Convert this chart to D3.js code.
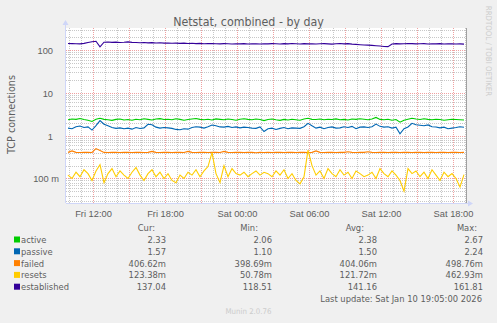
<!DOCTYPE html>
<html>
<head>
<meta charset="utf-8">
<script src="https://cdn.jsdelivr.net/npm/d3@7/dist/d3.min.js"></script>
<style>
body{margin:0;background:#f0f0f0}
svg{display:block;font-family:"DejaVu Sans Condensed","DejaVu Sans",sans-serif;font-stretch:condensed}
</style>
</head>
<body>
<svg id="chart" width="497" height="323"></svg>
<script>
var seriesNames = ['active', 'passive', 'failed', 'resets', 'established'];
var seriesColors = ['#00cc00', '#0066b3', '#ff8000', '#ffcc00', '#330099'];

// 20 minute samples, Fri 09:45 -> Sat 19:05
var active = [2.35,2.45,2.40,2.52,2.38,2.30,2.15,2.42,2.55,2.40,2.35,2.28,2.40,2.45,2.32,2.38,2.30,2.42,2.36,2.48,2.40,2.33,2.45,2.50,2.38,
  2.42,2.35,2.48,2.40,2.30,2.38,2.45,2.52,2.40,2.36,2.42,2.33,2.46,2.40,2.35,2.44,2.38,2.30,2.42,2.48,2.40,2.36,2.45,2.38,2.25,
  2.38,2.45,2.35,2.28,2.40,2.33,2.42,2.36,2.30,2.45,2.55,2.40,2.38,2.44,2.35,2.42,2.38,2.46,2.36,2.40,2.33,2.45,2.40,2.48,2.42,
  2.36,2.45,2.67,2.40,2.35,2.42,2.30,2.38,2.06,2.30,2.42,2.55,2.45,2.38,2.48,2.40,2.35,2.42,2.38,2.30,2.36,2.42,2.38,2.35,2.33];
var passive = [1.50,1.45,1.62,1.68,1.55,1.60,1.35,1.72,2.24,1.85,1.70,1.55,1.48,1.52,1.45,1.50,1.42,1.55,1.47,1.52,1.85,1.80,1.58,1.50,1.55,
  1.52,1.48,1.40,1.38,1.45,1.42,1.55,1.62,1.58,1.50,1.62,1.77,1.70,1.60,1.58,1.65,1.55,1.60,1.52,1.58,1.55,1.50,1.48,1.60,1.25,
  1.45,1.50,1.40,1.48,1.55,1.45,1.52,1.50,1.48,1.62,1.94,1.70,1.50,1.58,1.45,1.55,1.60,1.50,1.52,1.62,1.55,1.65,1.45,1.58,1.60,
  1.55,1.62,1.87,1.65,1.58,1.62,1.50,1.58,1.10,1.45,1.60,1.94,1.80,1.75,1.70,1.78,1.62,1.60,1.52,1.58,1.45,1.50,1.55,1.62,1.57];
var failed = [0.407,0.44,0.407,0.406,0.407,0.407,0.406,0.4988,0.45,0.407,0.406,0.407,0.407,0.406,0.407,0.407,0.406,0.407,0.407,0.406,0.407,0.43,0.407,0.406,0.407,
  0.407,0.406,0.407,0.407,0.406,0.43,0.407,0.406,0.407,0.407,0.406,0.407,0.407,0.406,0.43,0.407,0.406,0.407,0.407,0.406,0.407,0.407,0.3987,0.407,0.406,
  0.407,0.406,0.407,0.407,0.406,0.407,0.407,0.406,0.407,0.407,0.406,0.407,0.44,0.407,0.406,0.407,0.407,0.406,0.407,0.407,0.42,0.407,0.406,0.407,0.407,
  0.42,0.407,0.406,0.407,0.407,0.406,0.407,0.407,0.406,0.407,0.407,0.406,0.407,0.407,0.406,0.407,0.407,0.406,0.407,0.407,0.406,0.407,0.407,0.406,0.4066];
var resets = [0.12,0.10,0.14,0.11,0.16,0.13,0.09,0.15,0.21,0.08,0.13,0.17,0.11,0.15,0.12,0.10,0.14,0.18,0.12,0.09,0.13,0.16,0.11,0.14,0.10,
  0.13,0.09,0.08,0.12,0.10,0.14,0.12,0.16,0.11,0.15,0.19,0.40,0.13,0.08,0.20,0.11,0.17,0.13,0.12,0.14,0.11,0.13,0.15,0.12,0.14,
  0.13,0.11,0.15,0.12,0.16,0.10,0.13,0.09,0.075,0.11,0.46,0.20,0.12,0.15,0.10,0.17,0.13,0.11,0.16,0.12,0.14,0.10,0.15,0.13,0.11,
  0.12,0.14,0.10,0.17,0.13,0.11,0.15,0.12,0.09,0.0508,0.17,0.13,0.15,0.11,0.14,0.10,0.16,0.12,0.09,0.14,0.11,0.13,0.10,0.063,0.1234];
var established = [142,141,140,139,143,150,156,160,118.51,152,154,151,153,150,152,155,151,150,148,150,147,149,146,148,145,
  146,144,145,143,145,142,144,141,143,140,142,141,140,139,141,140,138,140,139,141,138,140,139,138,140,
  139,141,140,138,141,139,142,140,138,141,139,140,138,140,141,139,137,140,142,139,141,137,135,133,131,
  130,128,126,124,121,120,138,141,139,140,142,141,139,140,141,138,140,139,141,138,140,139,138,139,137.04];

var curVals = ['2.33', '1.57', '406.62m', '123.38m', '137.04'];
var minVals = ['2.06', '1.10', '398.69m', '50.78m', '118.51'];
var avgVals = ['2.38', '1.50', '404.06m', '121.72m', '141.16'];
var maxVals = ['2.67', '2.24', '498.76m', '462.93m', '161.81'];
var colHeads = ['Cur:', 'Min:', 'Avg:', 'Max:'];

var yTicks = [0.1, 1, 10, 100];
var yTickLabels = ['100 m', '1', '10', '100'];

var titleText = 'Netstat, combined - by day';
var yLabel = 'TCP connections';
var lastUpdate = 'Last update: Sat Jan 10 19:05:00 2026';

var t1 = Date.UTC(2026, 0, 10, 19, 5), stepMs = 20 * 60000, t0 = t1 - 100 * stepMs;

var svg = d3.select('#chart'),
  fg = '#5e5e5e', axisCol = '#cfd6f8',
  pL = 66, pR = 466, pT = 28, pB = 203;

var x = d3.scaleUtc().domain([new Date(t0), new Date(t1)]).range([pL, pR]);
var dec = (178.5 - 50) / 3;
var y = d3.scaleLog()
  .domain([100 * Math.pow(10, -(pB - 50) / dec), 100 * Math.pow(10, (50 - pT) / dec)])
  .range([pB, pT]);

svg.append('rect').attr('x', pL).attr('y', pT).attr('width', pR - pL).attr('height', pB - pT).attr('fill', '#fff');

var isDecade = function(d) { var l = Math.log10(d); return Math.abs(l - Math.round(l)) < 1e-9; };
var px = function(v) { return Math.round(v) + 0.5; };

// grid
var grid = svg.append('g');
y.ticks().filter(function(d) { return !isDecade(d); }).forEach(function(d) {
  grid.append('line').attr('x1', pL).attr('x2', pR).attr('y1', px(y(d))).attr('y2', px(y(d)))
    .attr('stroke', '#c8c8c8').attr('stroke-dasharray', '1,1');
});
d3.utcHour.range(new Date(t0), new Date(t1)).forEach(function(d) {
  if (d.getUTCHours() % 3 == 0) return;
  grid.append('line').attr('y1', pT).attr('y2', pB).attr('x1', px(x(d))).attr('x2', px(x(d)))
    .attr('stroke', '#c8c8c8').attr('stroke-dasharray', '1,1');
});
yTicks.forEach(function(d) {
  grid.append('line').attr('x1', pL).attr('x2', pR).attr('y1', px(y(d))).attr('y2', px(y(d)))
    .attr('stroke', '#f0a0a0').attr('stroke-dasharray', '1,1');
});
d3.utcHour.every(3).range(new Date(t0), new Date(t1)).forEach(function(d) {
  grid.append('line').attr('y1', pT).attr('y2', pB).attr('x1', px(x(d))).attr('x2', px(x(d)))
    .attr('stroke', '#f0a0a0').attr('stroke-dasharray', '1,1');
});

// series
var allSeries = [active, passive, failed, resets, established];
var line = d3.line()
  .x(function(d, i) { return x(new Date(t0 + (i + 0.5) * stepMs)); })
  .y(function(d) { return y(d); });
allSeries.forEach(function(s, k) {
  svg.append('path').datum(s).attr('d', line).attr('fill', 'none')
    .attr('stroke', seriesColors[k]).attr('stroke-width', 1.1);
});

// frame / axes
svg.append('line').attr('x1', pR + 0.5).attr('x2', pR + 0.5).attr('y1', pT).attr('y2', pB)
  .attr('stroke', '#a0a0a0');
svg.append('line').attr('x1', pL - 0.5).attr('x2', pL - 0.5).attr('y1', pB).attr('y2', pT - 5)
  .attr('stroke', axisCol);
svg.append('line').attr('x1', pL).attr('x2', pR + 3).attr('y1', pB + 0.5).attr('y2', pB + 0.5)
  .attr('stroke', axisCol);
svg.append('path').attr('d', 'M' + (pL - 3.5) + ',' + (pT - 3) + 'L' + (pL + 2.5) + ',' + (pT - 3) + 'L' + (pL - 0.5) + ',' + (pT - 8) + 'Z')
  .attr('fill', axisCol);
svg.append('path').attr('d', 'M' + (pR + 2) + ',' + (pB - 2.5) + 'L' + (pR + 2) + ',' + (pB + 3.5) + 'L' + (pR + 7) + ',' + (pB + 0.5) + 'Z')
  .attr('fill', axisCol);

var yAxis = d3.axisLeft(y).tickValues(yTicks).tickFormat(function(d, i) { return yTickLabels[i]; })
  .tickSize(0).tickPadding(7);
var gy = svg.append('g').attr('transform', 'translate(' + pL + ',0)').call(yAxis);
gy.select('.domain').remove();
gy.selectAll('text').attr('fill', fg).attr('font-size', 9.3).attr('font-family', null).attr('dy', '0.36em')
  .attr('dx', function(d, i) { return /m$/.test(yTickLabels[i]) ? 0 : -6; });

var xAxis = d3.axisBottom(x).tickValues(d3.utcHour.every(6).range(new Date(t0), new Date(t1)))
  .tickFormat(d3.utcFormat('%a %H:%M')).tickSize(0).tickPadding(7);
var gx = svg.append('g').attr('transform', 'translate(0,' + pB + ')').call(xAxis);
gx.select('.domain').remove();
gx.selectAll('text').attr('fill', fg).attr('font-size', 9.3).attr('font-family', null);

// texts
svg.append('text').attr('x', 248.5).attr('y', 25.5).attr('text-anchor', 'middle')
  .attr('font-size', 12.3).attr('fill', fg).text(titleText);
svg.append('text').attr('transform', 'translate(15,114.5) rotate(-90)').attr('text-anchor', 'middle')
  .attr('font-size', 10.7).attr('fill', fg).text(yLabel);
svg.append('text').attr('transform', 'translate(486,51) rotate(90)').attr('text-anchor', 'middle')
  .attr('font-size', 7.8).attr('fill', '#cccccc').text('RRDTOOL / TOBI OETIKER');

// legend
var colEnds = [166, 272, 377, 483], headEnds = [155, 258, 364, 477];
var lg = svg.append('g').attr('font-size', 9.3).attr('fill', fg).style('white-space', 'pre');
colHeads.forEach(function(h, c) {
  lg.append('text').attr('x', headEnds[c]).attr('y', 231).attr('text-anchor', 'end').text(h);
});
var cols = [curVals, minVals, avgVals, maxVals];
seriesNames.forEach(function(n, i) {
  var by = 243 + i * 11.8;
  lg.append('rect').attr('x', 14).attr('y', by - 6.5).attr('width', 6).attr('height', 6).attr('fill', seriesColors[i]);
  lg.append('text').attr('x', 21).attr('y', by).text(n);
  cols.forEach(function(vals, c) {
    var v = vals[i];
    lg.append('text').attr('x', colEnds[c]).attr('y', by).attr('text-anchor', 'end')
      .text(/m$/.test(v) ? v : v + ' ');
  });
});
lg.append('text').attr('x', 482).attr('y', 302).attr('text-anchor', 'end').text(lastUpdate);
svg.append('text').attr('x', 248.5).attr('y', 314).attr('text-anchor', 'middle')
  .attr('font-size', 7.8).attr('fill', '#cccccc').text('Munin 2.0.76');
</script>
</body>
</html>
